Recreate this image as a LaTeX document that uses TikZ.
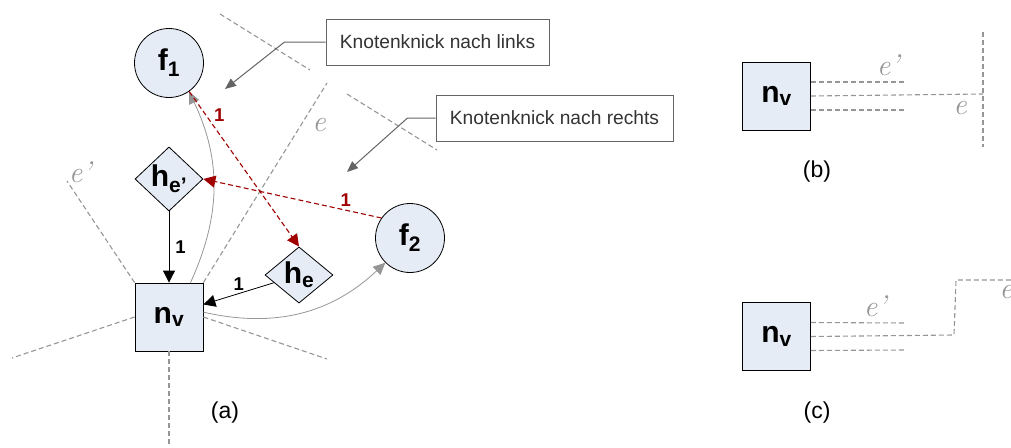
\documentclass[tikz,border=0pt]{standalone}
\usepackage{fontspec}
\setsansfont{Liberation Sans}
\usetikzlibrary{shapes.geometric,arrows.meta}

\definecolor{nodefill}{RGB}{230,236,246}
\definecolor{edgegray}{RGB}{150,150,150}
\definecolor{knickred}{RGB}{160,0,0}
\definecolor{calloutgray}{RGB}{100,100,100}

\tikzset{
    knoten/.style={draw=black, fill=nodefill, line width=0.8pt, inner sep=0pt,
        font=\sffamily\bfseries\fontsize{30}{30}\selectfont},
    netzknoten/.style={knoten, rectangle, minimum size=68pt},
    flaeche/.style={knoten, circle, minimum size=69pt},
    kante/.style={knoten, diamond, minimum width=68pt, minimum height=52pt},
    rand/.style={draw=edgegray, line width=1.1pt, dash pattern=on 5pt off 3pt},
    bogen/.style={draw=edgegray, line width=0.8pt, -{Triangle[width=11pt,length=12pt]}},
    zuweisung/.style={line width=0.8pt, -{Triangle[width=12pt,length=12pt]}},
    knick/.style={draw=knickred, line width=1.1pt, dash pattern=on 5pt off 3pt,
        -{Triangle[width=12pt,length=12pt]}},
    gewicht/.style={font=\sffamily\bfseries\fontsize{18.5}{18.5}\selectfont, inner sep=2pt},
    hinweis/.style={draw=calloutgray, line width=1pt, minimum height=46pt, text=black!80,
        font=\sffamily\fontsize{19.2}{23}\selectfont},
    zeiger/.style={draw=calloutgray, line width=1pt, -{Triangle[width=9pt,length=11pt]}},
    beschriftung/.style={font=\sffamily\fontsize{23}{27}\selectfont},
    kantenname/.style={text=edgegray, font=\rmfamily\itshape\fontsize{30}{30}\selectfont}
}

\begin{document}
\begin{tikzpicture}[x=1pt,y=-1pt]
    \useasboundingbox (0,0) rectangle (1011,447);

    % (a)
    \draw[rand] (220,14) -- (310,70);
    \draw[rand] (347,94) -- (437,150);

    \node[netzknoten] (nv) at (169,317) {n\textsubscript{v}};
    \node[flaeche] (f1) at (169,63) {f\textsubscript{1}};
    \node[flaeche] (f2) at (410,238) {f\textsubscript{2}};
    \node[kante] (he1) at (169,179) {h\textsubscript{e'}};
    \node[kante] (he) at (299,275) {h\textsubscript{e}};

    \coordinate (ru) at (169,447);
    \coordinate (rl) at (12,358);
    \coordinate (rol) at (67,181);
    \coordinate (ror) at (327,83);
    \coordinate (rr) at (327,359);
    \draw[rand] (nv.south) -- (ru);
    \draw[rand] (nv.west) -- (rl);
    \draw[rand] (nv.north west) -- (rol);
    \draw[rand] (nv.north east) -- (ror);
    \draw[rand] (nv.east) -- (rr);
    \node[kantenname] (ea) at (319,125) {e};
    \node[kantenname] (ea1) at (80,172) {e'};

    \draw[bogen] (nv.58) to[bend right=25] (f1.-55);
    \draw[bogen] (nv.8) to[bend right=28] (f2.225);

    \draw[zuweisung] (he1) -- node[gewicht, right=4pt] (w1) {1} (nv);
    \draw[zuweisung] (he) -- node[gewicht, above=1pt] (w2) {1} (nv.20);
    \draw[knick] (f1) -- node[gewicht, text=knickred, pos=0.15, right=6pt] (w3) {1} (he.north);
    \draw[knick] (f2.145) -- node[gewicht, text=knickred, pos=0.2, above=1pt] (w4) {1} (he1.east);

    \node[hinweis, minimum width=223pt] (links) at (437.5,42) {Knotenknick nach links};
    \node[hinweis, minimum width=237pt] (rechts) at (554.5,118) {Knotenknick nach rechts};
    \coordinate (kl) at (225,89);
    \coordinate (kr) at (347,172);
    \draw[zeiger] (links.west) -- ++(-41,0) -- (kl);
    \draw[zeiger] (rechts.west) -- ++(-28,0) -- (kr);

    \node[beschriftung] (la) at (225,413) {(a)};

    % (b)
    \node[netzknoten] (nvb) at (776.5,96) {n\textsubscript{v}};
    \coordinate (b1) at (906,82);
    \coordinate (b2) at (983,94);
    \coordinate (b3) at (906,110);
    \draw[rand] (nvb.east) ++(0,-14) -- (b1);
    \draw[rand] (nvb.east) -- (b2);
    \draw[rand] (nvb.east) ++(0,14) -- (b3);
    \draw[rand] (983,32) -- (983,147);
    \node[kantenname] (eb1) at (888,65) {e'};
    \node[kantenname] (eb) at (960,108) {e};
    \node[beschriftung] (lb) at (817,172) {(b)};

    % (c)
    \node[netzknoten] (nvc) at (776.5,336.5) {n\textsubscript{v}};
    \coordinate (c1) at (906,323);
    \coordinate (c2) at (954,335);
    \coordinate (c3) at (906,350);
    \draw[rand] (nvc.east) ++(0,-14) -- (c1);
    \draw[rand] (nvc.east) -- (c2) -- (956,280) -- (1011,280);
    \draw[rand] (nvc.east) ++(0,14) -- (c3);
    \node[kantenname] (ec1) at (875,306) {e'};
    \node[kantenname] (ec) at (1006,292) {e};
    \node[beschriftung] (lc) at (817,413) {(c)};

\end{tikzpicture}
\end{document}
